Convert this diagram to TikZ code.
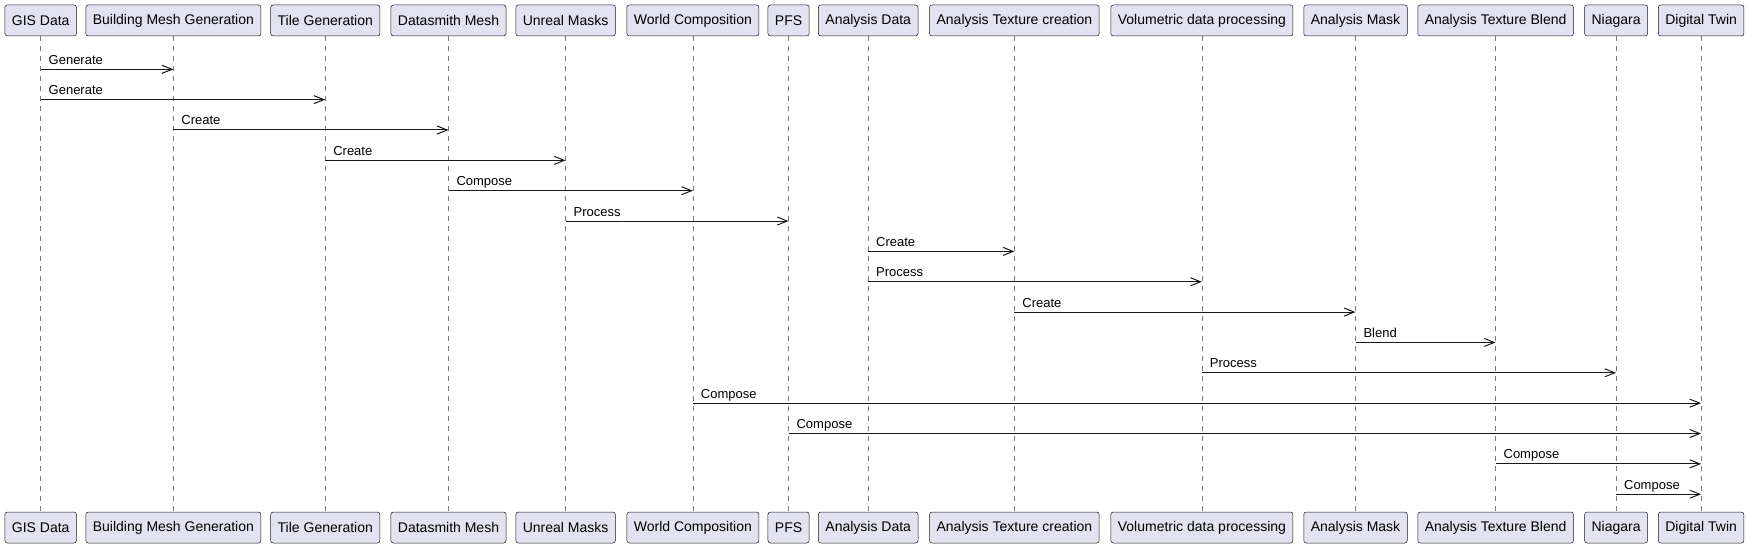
\documentclass[tikz,border=0pt]{standalone}
\usepackage{fontspec}
\setmainfont{Liberation Sans}
\usetikzlibrary{arrows.meta}
\definecolor{pbox}{HTML}{E2E2F0}
\definecolor{pline}{HTML}{181818}
\definecolor{plife}{HTML}{7A7A7A}
\begin{document}
\begin{tikzpicture}[x=1pt,y=-1pt,
  part/.style={draw=pline, line width=0.5pt, fill=pbox, rounded corners=2.5pt,
    minimum height=31pt, inner xsep=7pt, inner ysep=0pt,
    font=\fontsize{14}{16}\selectfont, anchor=center},
  life/.style={draw=plife, line width=0.5pt, dash pattern=on 5pt off 5pt},
  msg/.style={draw=pline, line width=1pt, -{Straight Barb[length=10pt,width=8pt]}},
  lbl/.style={anchor=base west, inner sep=0pt, font=\fontsize{13}{15}\selectfont}]
\useasboundingbox (0,0) rectangle (1748,548);
\foreach \n/\x/\t in {gis/40.7/GIS Data, bmg/173.4/Building Mesh Generation,
  tile/325.3/Tile Generation, dsm/448.5/Datasmith Mesh, um/565.6/Unreal Masks,
  wc/692.9/World Composition, pfs/788.6/PFS, ad/868.2/Analysis Data,
  atc/1014.4/Analysis Texture creation, vdp/1201.9/Volumetric data processing,
  am/1355.5/Analysis Mask, atb/1495.6/Analysis Texture Blend,
  nia/1616.1/Niagara, dt/1701.1/Digital Twin}{
  \node[part] (\n) at (\x,20.5) {\t};
  \node[part] (\n-b) at (\x,527.5) {\t};
  \draw[life] (\n.south) -- (\n-b.north);
}
\foreach \i/\a/\b/\t in {1/gis/bmg/Generate, 2/gis/tile/Generate,
  3/bmg/dsm/Create, 4/tile/um/Create, 5/dsm/wc/Compose, 6/um/pfs/Process,
  7/ad/atc/Create, 8/ad/vdp/Process, 9/atc/am/Create, 10/am/atb/Blend,
  11/vdp/nia/Process, 12/wc/dt/Compose, 13/pfs/dt/Compose,
  14/atb/dt/Compose, 15/nia/dt/Compose}{
  \pgfmathsetmacro\yy{69.3+30.35*(\i-1)}
  \coordinate (r\i) at (0,\yy);
  \draw[msg] (\a.south |- r\i) node[lbl, xshift=7.5pt, yshift=5pt] (l\i) {\t}
    -- (\b.south |- r\i);
}
\end{tikzpicture}
\end{document}
